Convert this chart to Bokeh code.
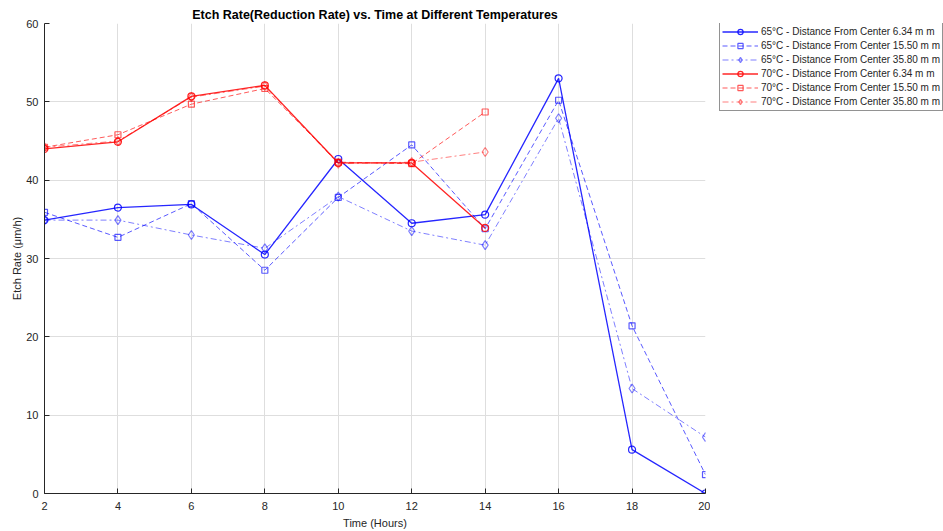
from bokeh.plotting import figure
from bokeh.models import Legend, LegendItem, FixedTicker, Range1d
from bokeh.layouts import row
from bokeh.embed import file_html
from bokeh.resources import INLINE

hours = [2, 4, 6, 8, 10, 12, 14, 16, 18, 20]
hours70 = [2, 4, 6, 8, 10, 12, 14]

r65_634 = [34.9, 36.5, 36.9, 30.5, 42.7, 34.5, 35.6, 53.0, 5.6, 0.0]
r65_1550 = [35.9, 32.7, 37.0, 28.5, 37.8, 44.5, 33.8, 50.2, 21.4, 2.4]
r65_3580 = [34.9, 34.9, 33.0, 31.3, 37.9, 33.5, 31.7, 47.9, 13.4, 7.2]
r70_634 = [44.0, 44.9, 50.7, 52.1, 42.2, 42.2, 33.9]
r70_1550 = [44.2, 45.8, 49.7, 51.7, 42.3, 42.1, 48.7]
r70_3580 = [44.2, 45.0, 50.6, 52.0, 42.1, 42.3, 43.6]

labels = [
    "65°C - Distance From Center 6.34 m m",
    "65°C - Distance From Center 15.50 m m",
    "65°C - Distance From Center 35.80 m m",
    "70°C - Distance From Center 6.34 m m",
    "70°C - Distance From Center 15.50 m m",
    "70°C - Distance From Center 35.80 m m",
]
x_ticks = [2, 4, 6, 8, 10, 12, 14, 16, 18, 20]
y_ticks = [0, 10, 20, 30, 40, 50, 60]

FONT = "Liberation Sans"

p = figure(width=710, height=531, output_backend="svg", toolbar_location=None,
           x_range=(2, 20), y_range=(0, 60),
           min_border_left=44, min_border_right=5, min_border_bottom=38,
           min_border_top=23)
p.title.text = "Etch Rate(Reduction Rate) vs. Time at Different Temperatures"
p.title.align = "center"
p.title.text_font = FONT
p.title.text_font_size = "12.5px"
p.title.text_font_style = "bold"
p.title.text_color = "#000000"
p.title.offset = 0
p.title.standoff = 3
p.outline_line_color = None
p.background_fill_color = "white"

for ax in (p.xaxis, p.yaxis):
    ax.major_tick_in = 5
    ax.major_tick_out = 0
    ax.minor_tick_in = 0
    ax.minor_tick_out = 0
    ax.axis_line_color = "#262626"
    ax.major_tick_line_color = "#262626"
    ax.major_label_text_font = FONT
    ax.major_label_text_font_size = "11px"
    ax.major_label_text_color = "#262626"
    ax.axis_label_text_font = FONT
    ax.axis_label_text_font_size = "11px"
    ax.axis_label_text_font_style = "normal"
    ax.axis_label_text_color = "#262626"
p.xaxis.ticker = FixedTicker(ticks=x_ticks)
p.yaxis.ticker = FixedTicker(ticks=y_ticks)
p.xaxis.axis_label = "Time (Hours)"
p.yaxis.axis_label = "Etch Rate (μm/h)"
p.xaxis.major_label_standoff = 8
p.yaxis.major_label_standoff = 6
p.xaxis.axis_label_standoff = 4
p.yaxis.axis_label_standoff = 0
p.grid.grid_line_color = "#dedede"
p.grid.grid_line_width = 1

series = [
    (hours, r65_634, "#0000ff", "solid", "circle", 0.85, 1.3, 7),
    (hours, r65_1550, "#0000ff", "5 3", "square", 0.65, 1.0, 6),
    (hours, r65_3580, "#0000ff", "6 3 2 3", "diamond", 0.5, 1.0, 9),
    (hours70, r70_634, "#ff0000", "solid", "circle", 0.85, 1.3, 7),
    (hours70, r70_1550, "#ff0000", "5 3", "square", 0.65, 1.0, 6),
    (hours70, r70_3580, "#ff0000", "6 3 2 3", "diamond", 0.5, 1.0, 9),
]

# legend panel: a second, axis-less figure to the right of the plot
q = figure(width=233, height=531, output_backend="svg", toolbar_location=None,
           x_range=Range1d(-100, -99), y_range=Range1d(-100, -99),
           min_border_left=0, min_border_right=0, min_border_top=0,
           min_border_bottom=0)
q.axis.visible = False
q.grid.visible = False
q.outline_line_color = None

items = []
for (xs, ys, col, dash, mk, a, lw, sz), lab in zip(series, labels):
    p.line(xs, ys, line_color=col, line_dash=dash, line_alpha=a, line_width=lw)
    p.scatter(xs, ys, marker=mk, size=sz, line_color=col, fill_color=None,
              line_alpha=a, line_width=1.2)
    l = q.line(xs, ys, line_color=col, line_dash=dash, line_alpha=a, line_width=lw)
    s = q.scatter(xs, ys, marker=mk, size=sz, line_color=col, fill_color=None,
                  line_alpha=a, line_width=1.2)
    items.append(LegendItem(label=lab, renderers=[l, s]))

legend = Legend(items=items, location=(9, 382))
legend.label_text_font = FONT
legend.label_text_font_size = "10px"
legend.label_text_color = "#262626"
legend.border_line_color = "#262626"
legend.border_line_width = 1
legend.glyph_width = 36
legend.glyph_height = 13
legend.label_height = 13
legend.spacing = 1
legend.padding = 2
legend.margin = 0
legend.label_standoff = 3
q.add_layout(legend)

layout = row(p, q, spacing=0)
open("out.html", "w").write(file_html(layout, INLINE))
